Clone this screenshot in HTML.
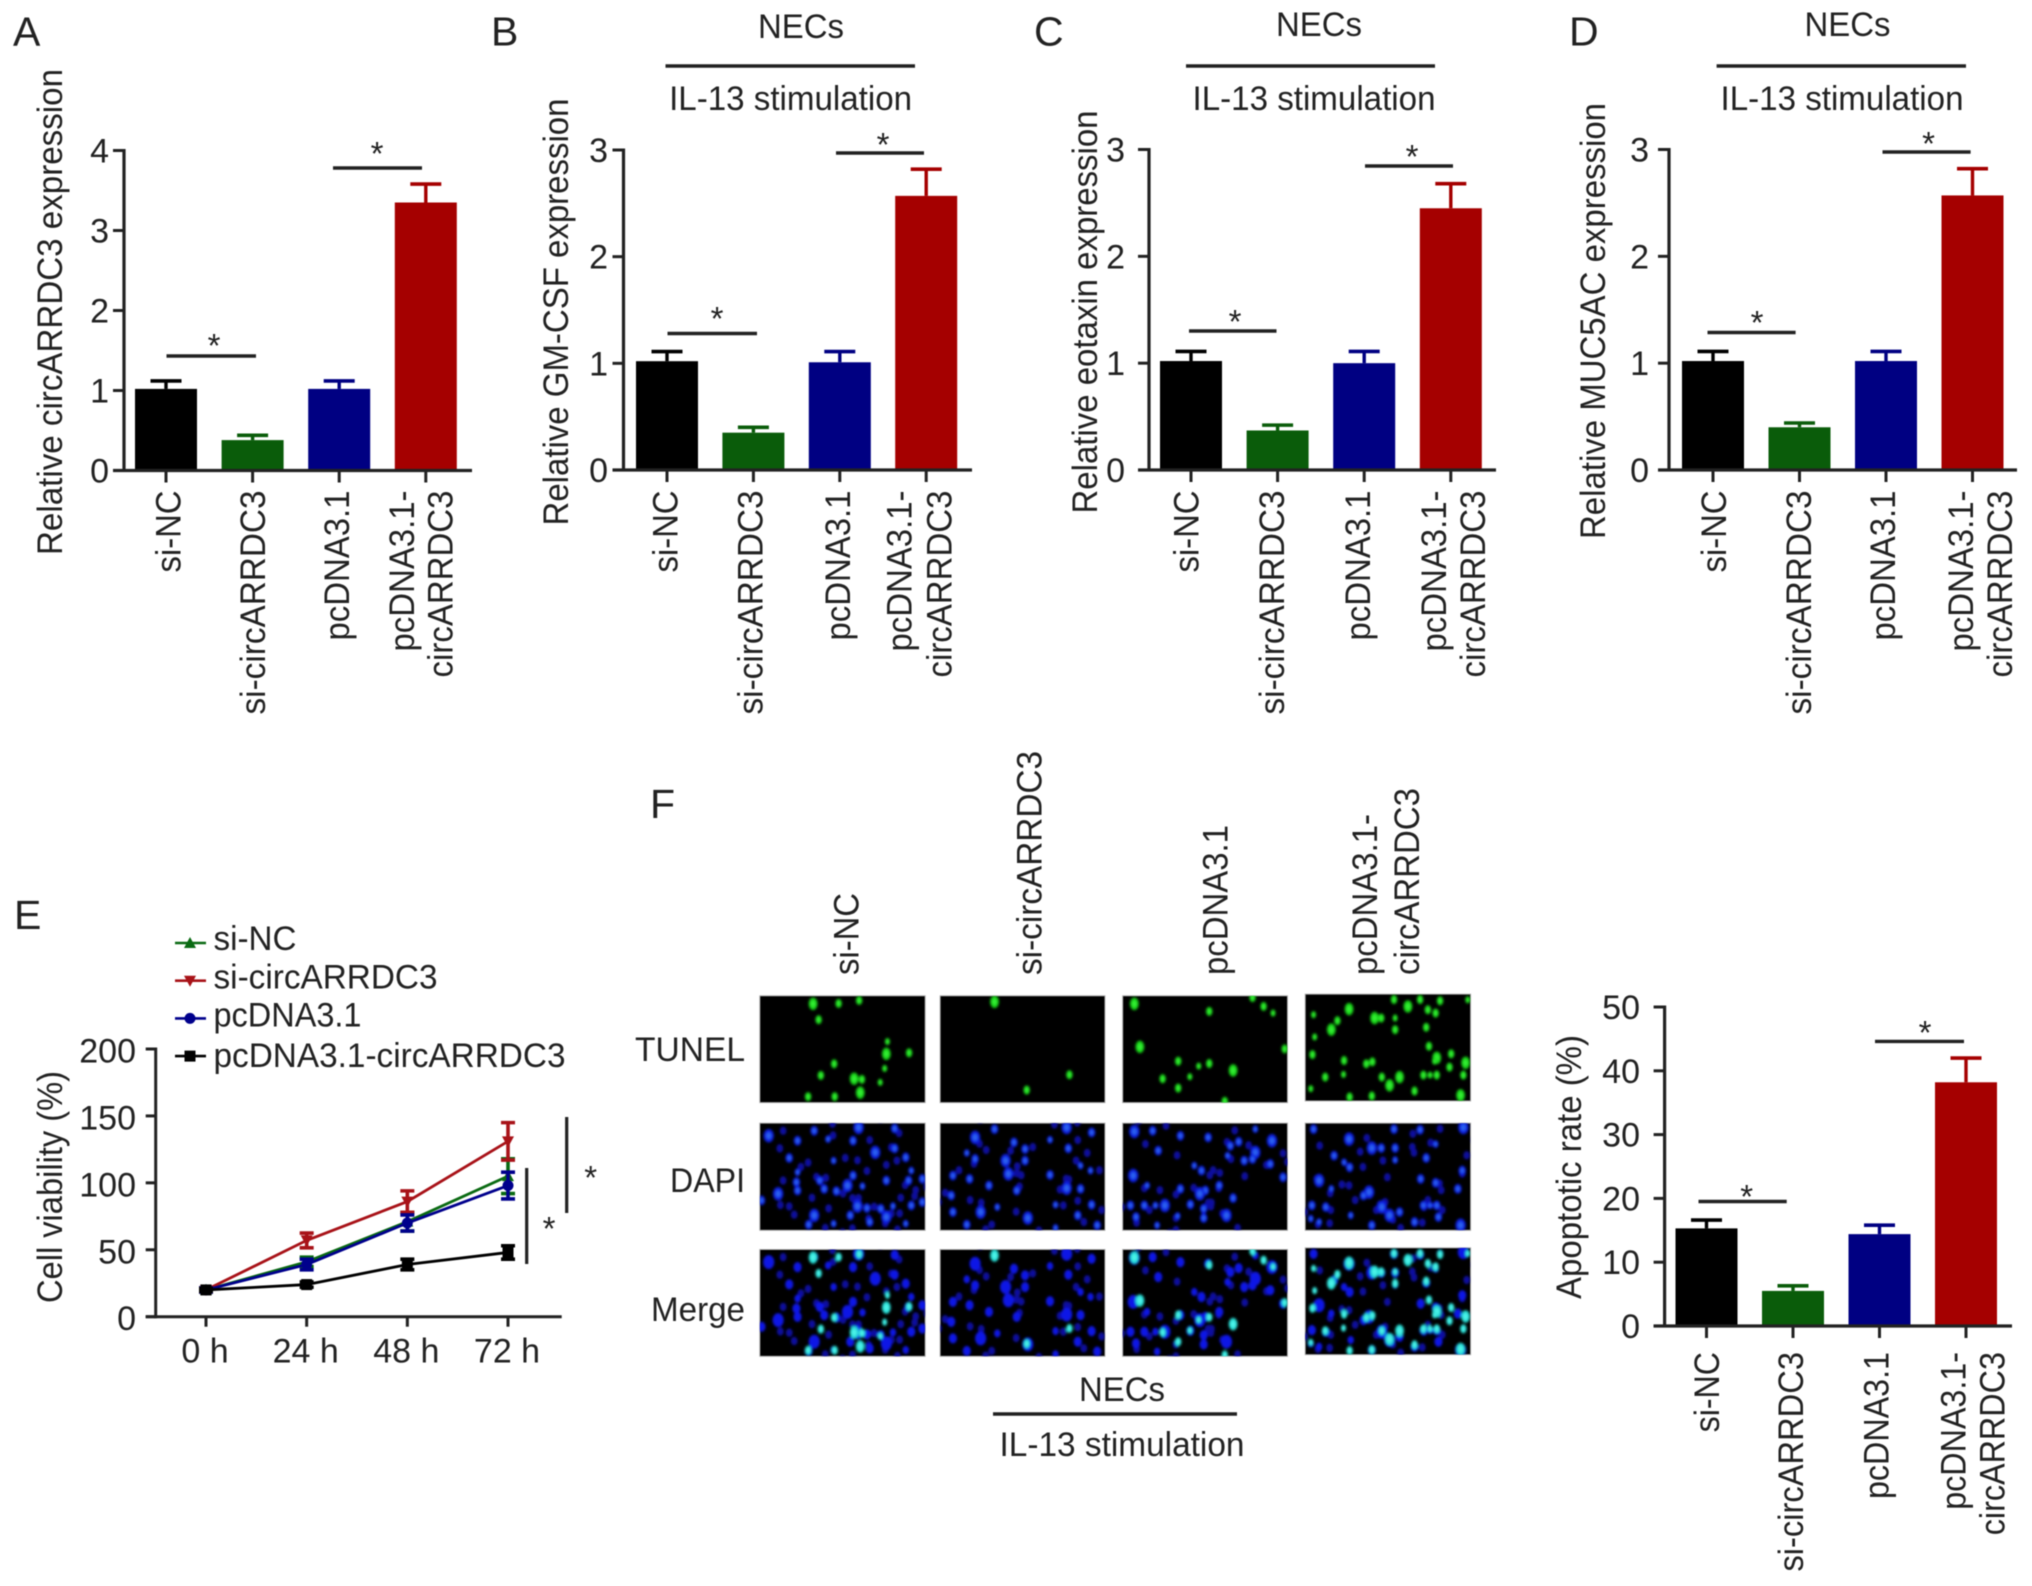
<!DOCTYPE html>
<html lang="en">
<head>
<meta charset="utf-8">
<title>circARRDC3 figure</title>
<style>
html,body{margin:0;padding:0;background:#fff;}
#figure{display:block;width:2032px;height:1586px;filter:blur(0.55px);}
text{font-family:"Liberation Sans",sans-serif;fill:#222;}
</style>
</head>
<body>
<svg id="figure" xmlns="http://www.w3.org/2000/svg" width="2032" height="1586" viewBox="0 0 2032 1586">
<defs>
<filter id="soft" x="-10%" y="-10%" width="120%" height="120%"><feGaussianBlur stdDeviation="1.2"/></filter>
</defs>
<rect x="0" y="0" width="2032" height="1586" fill="#fff"/>
</svg>
<script>
// ---------- chart data ----------
var categories = ['si-NC', 'si-circARRDC3', 'pcDNA3.1', 'pcDNA3.1-circARRDC3'];
var barColors = ['#000000', '#0a5c0a', '#000082', '#a50000'];

var panelAValues = [1.02, 0.38, 1.02, 3.35];
var panelAErrors = [0.10, 0.06, 0.10, 0.23];
var panelATicks = [0, 1, 2, 3, 4];

var panelBValues = [1.02, 0.35, 1.01, 2.57];
var panelBErrors = [0.09, 0.05, 0.10, 0.25];
var panelBTicks = [0, 1, 2, 3];

var panelCValues = [1.02, 0.37, 1.00, 2.45];
var panelCErrors = [0.09, 0.05, 0.11, 0.23];
var panelCTicks = [0, 1, 2, 3];

var panelDValues = [1.02, 0.40, 1.02, 2.57];
var panelDErrors = [0.09, 0.04, 0.09, 0.25];
var panelDTicks = [0, 1, 2, 3];

var panelFValues = [15.3, 5.5, 14.4, 38.2];
var panelFErrors = [1.3, 0.8, 1.4, 3.8];
var panelFTicks = [0, 10, 20, 30, 40, 50];

var timeLabels = ['0 h', '24 h', '48 h', '72 h'];
var viabilityTicks = [0, 50, 100, 150, 200];
var siNcViability = [20, 41, 71, 105];
var siNcErrors = [1.5, 3.5, 7, 13];
var siCircViability = [20, 57, 86, 131];
var siCircErrors = [1.5, 5.5, 8, 14];
var pcDnaViability = [20, 39, 70, 98];
var pcDnaErrors = [1.5, 4, 6, 10];
var pcDnaCircViability = [20, 24, 39, 48];
var pcDnaCircErrors = [1, 2, 4, 5];

// ---------- fluorescence image stand-ins: nuclei ----------
var tunelNuclei = [
 [[348,132],[394,131],[431,122],[358,180],[482,246],[480,283],[521,280],[386,313],[477,327],[362,348],[422,358],[436,360],[469,369],[339,412],[387,412],[433,400]],
 [[675,126],[810,346],[733,392]],
 [[927,132],[1062,155],[1140,113],[1160,140],[1177,160],[937,262],[1198,268],[1006,305],[1043,320],[1062,312],[1105,333],[978,358],[1027,352],[1006,386],[1090,426]],
 [[1314,153],[1395,124],[1442,124],[1478,128],[1528,125],[1420,145],[1456,155],[1470,165],[1250,170],[1293,188],[1360,180],[1372,180],[1397,180],[1397,215],[1453,208],[1282,215],[1252,237],[1458,265],[1248,290],[1498,288],[1472,300],[1305,308],[1345,318],[1356,312],[1468,310],[1524,315],[1495,328],[1271,358],[1304,350],[1373,358],[1405,358],[1448,352],[1460,352],[1472,352],[1520,352],[1387,383],[1245,393],[1432,400],[1315,418],[1355,415],[1515,413]]
];
var dapiNuclei = [
 [[268,530],[320,545],[350,515],[420,545],[375,540],[430,505],[495,508],[305,597],[385,605],[495,568],[460,580],[515,595],[320,640],[360,665],[420,650],[410,680],[525,635],[480,665],[520,665],[318,670],[285,705],[320,695],[368,690],[390,697],[437,682],[428,742],[445,748],[470,750],[492,742],[525,740],[350,770],[340,798],[385,795],[415,770],[450,790],[480,775],[515,795],[255,725],[545,660],[545,730]],
 [[640,535],[675,510],[710,550],[730,570],[775,542],[805,505],[850,520],[808,568],[625,582],[640,600],[695,605],[730,605],[830,620],[600,650],[630,660],[700,645],[848,635],[775,648],[665,680],[715,695],[805,688],[830,690],[597,710],[850,738],[785,738],[735,778],[825,770],[625,798],[785,808],[860,800],[650,760],[600,760],[680,745]],
 [[927,517],[1010,530],[1060,535],[1115,548],[1145,510],[1175,545],[960,515],[970,575],[1095,590],[1125,605],[1145,580],[1172,615],[1035,620],[1048,635],[1195,655],[925,650],[950,680],[1010,690],[1080,680],[1055,695],[1045,705],[1105,718],[920,740],[945,740],[965,740],[982,740],[1028,737],[1052,750],[1005,772],[1052,778],[1093,770],[930,775],[968,800],[1140,600],[1100,560]],
 [[1314,540],[1250,510],[1395,510],[1442,512],[1470,555],[1355,567],[1372,567],[1397,567],[1397,603],[1453,597],[1520,505],[1287,590],[1305,610],[1315,625],[1518,635],[1260,665],[1282,690],[1443,660],[1470,672],[1510,690],[1350,700],[1340,710],[1247,740],[1272,745],[1317,770],[1373,745],[1405,760],[1448,740],[1460,740],[1472,740],[1387,770],[1475,775],[1245,780],[1432,790],[1355,800],[1515,800],[1260,790]]
];

// ---------- drawing ----------
var svg = document.getElementById('figure');
var NS = 'http://www.w3.org/2000/svg';
var INK = '#222222';
var FS = 35;

function make(tag, attrs, parent) {
  var el = document.createElementNS(NS, tag);
  for (var k in attrs) el.setAttribute(k, attrs[k]);
  (parent || svg).appendChild(el);
  return el;
}
function line(x1, y1, x2, y2, color, width, parent) {
  return make('line', {x1: x1, y1: y1, x2: x2, y2: y2, stroke: color || INK, 'stroke-width': width || 3}, parent);
}
function text(str, x, y, opts, parent) {
  opts = opts || {};
  var attrs = {x: x, y: y, 'font-size': opts.size || FS, 'text-anchor': opts.anchor || 'start'};
  if (opts.rot) attrs.transform = 'rotate(' + opts.rot + ' ' + x + ' ' + y + ')';
  if (opts.len) { attrs.textLength = opts.len; attrs.lengthAdjust = 'spacingAndGlyphs'; }
  var el = make('text', attrs, parent);
  el.textContent = str;
  return el;
}
function slug(s) { return String(s).toLowerCase().replace(/[^a-z0-9]+/g, '-'); }

function drawStar(cx, cy, parent) {
  var el = text('*', cx, cy + 18, {anchor: 'middle', size: 33}, parent);
  
  
}
function drawSigLine(x1, x2, y, parent) {
  var el = line(x1, y, x2, y, INK, 3.4, parent);
  
  
}

function drawBarPanel(p) {
  var g = make('g', {});
  
  
  var maxTick = p.ticks[p.ticks.length - 1];
  function yScale(v) { return p.y0 - (v / maxTick) * (p.y0 - p.yTop); }
  function xScale(i) { return p.firstCenter + i * p.step; }

  // bars + error bars
  p.values.forEach(function (v, i) {
    var cx = xScale(i), top = yScale(v), errTop = yScale(v + p.errors[i]);
    var err = line(cx, top, cx, errTop, barColors[i], 3.4, g);
    
    
    var cap = line(cx - 15.5, errTop, cx + 15.5, errTop, barColors[i], 3.6, g);
    
    
    var bar = make('rect', {x: cx - p.barW / 2, y: top, width: p.barW, height: p.y0 - top, fill: barColors[i]}, g);
    
    
  });

  // axes
  var yAxis = line(p.axisX, p.yTop - 1.5, p.axisX, p.y0 + 1.5, INK, 3.2, g);
  
  
  var xAxis = line(p.axisX - 11, p.y0, p.xEnd, p.y0, INK, 3.2, g);
  
  

  p.ticks.forEach(function (t) {
    var y = yScale(t);
    var tick = line(p.axisX - 11, y, p.axisX, y, INK, 3, g);
    
    
    var lab = text(t, p.tickRight, y + 12, {anchor: 'end', size: 34}, g);
    
    
  });

  categories.forEach(function (c, i) {
    var tick = line(xScale(i), p.y0, xScale(i), p.y0 + 12, INK, 3, g);
    
    
  });

  // rotated category labels (4th wraps on two lines)
  var l = p.labelX;
  var s = p.labelScale || 1;
  var parts = [['si-NC', l[0], 82], ['si-circARRDC3', l[1], 224], ['pcDNA3.1', l[2], 150], ['pcDNA3.1-', l[3], 161], ['circARRDC3', l[4], 187]];
  parts.forEach(function (row) {
    var lab = text(row[0], row[1] - 1, p.labelTop, {anchor: 'end', rot: -90, len: row[2] * s}, g);
    
    
  });

  var title = text(p.yTitle, p.yTitleX, p.yTitleY, {anchor: 'middle', rot: -90, len: p.yTitleLen}, g);
  
  

  drawSigLine(p.sigA[0], p.sigA[1], p.sigA[2], g);
  drawStar(p.sigA[3], p.sigA[4], g);
  drawSigLine(p.sigB[0], p.sigB[1], p.sigB[2], g);
  drawStar(p.sigB[3], p.sigB[4], g);

  if (p.header) {
    var nec = text('NECs', p.header.necX, p.header.necY, {anchor: 'middle', size: 34, len: 86}, g);
    
    
    var rule = line(p.header.x1, 66, p.header.x2, 66, INK, 3.6, g);
    
    
    var st = text('IL-13 stimulation', p.header.ilX, 110, {anchor: 'middle', size: 34, len: 243}, g);
    
    
  }
}

drawBarPanel({key: 'a', values: panelAValues, errors: panelAErrors, ticks: panelATicks,
  y0: 470.5, yTop: 150.5, axisX: 124, xEnd: 472, firstCenter: 166, step: 86.6, barW: 62, tickRight: 109,
  labelX: [181.5, 266, 350, 415, 453.5], labelTop: 490.5,
  yTitle: 'Relative circARRDC3 expression', yTitleX: 62, yTitleY: 312, yTitleLen: 486,
  sigA: [166.5, 256, 356, 214, 339], sigB: [333, 422, 168, 377, 147]});

drawBarPanel({key: 'b', values: panelBValues, errors: panelBErrors, ticks: panelBTicks,
  y0: 470, yTop: 150, axisX: 623.5, xEnd: 972, firstCenter: 667, step: 86.4, barW: 62, tickRight: 608,
  labelX: [678.5, 763.5, 851, 912.5, 952.7], labelTop: 490.5,
  yTitle: 'Relative GM-CSF expression', yTitleX: 568, yTitleY: 312, yTitleLen: 427,
  sigA: [667.5, 757, 333.5, 717, 312], sigB: [836, 924, 153, 883, 138],
  header: {necX: 801, necY: 38, x1: 665.5, x2: 915, ilX: 790.6}});

drawBarPanel({key: 'c', values: panelCValues, errors: panelCErrors, ticks: panelCTicks,
  y0: 470, yTop: 149.5, axisX: 1149, xEnd: 1496, firstCenter: 1191, step: 86.6, barW: 62, tickRight: 1125,
  labelX: [1199.4, 1285, 1371, 1447, 1486], labelTop: 490.5,
  yTitle: 'Relative eotaxin expression', yTitleX: 1097, yTitleY: 312, yTitleLen: 403,
  sigA: [1189, 1276.5, 331, 1235, 315], sigB: [1365, 1453, 166, 1412, 150],
  header: {necX: 1319, necY: 36, x1: 1186, x2: 1435, ilX: 1314}});

drawBarPanel({key: 'd', values: panelDValues, errors: panelDErrors, ticks: panelDTicks,
  y0: 470, yTop: 149.5, axisX: 1669, xEnd: 2017, firstCenter: 1713, step: 86.5, barW: 62, tickRight: 1649,
  labelX: [1727, 1812, 1896, 1974, 2013], labelTop: 490.5,
  yTitle: 'Relative MUC5AC expression', yTitleX: 1605, yTitleY: 321, yTitleLen: 436,
  sigA: [1707.5, 1795.6, 332.5, 1757, 316], sigB: [1882.5, 1970.6, 152, 1928.5, 137],
  header: {necX: 1847.5, necY: 36, x1: 1716.6, x2: 1966, ilX: 1842}});

drawBarPanel({key: 'apoptosis', values: panelFValues, errors: panelFErrors, ticks: panelFTicks,
  y0: 1326, yTop: 1007, axisX: 1664.6, xEnd: 2012, firstCenter: 1706.5, step: 86.5, barW: 62, tickRight: 1640,
  labelX: [1720, 1804, 1889.5, 1966.6, 2005.6], labelTop: 1352, labelScale: 0.98,
  yTitle: 'Apoptotic rate (%)', yTitleX: 1581, yTitleY: 1167, yTitleLen: 264,
  sigA: [1698.5, 1786.7, 1201.5, 1746.7, 1190], sigB: [1875, 1964, 1041.4, 1925, 1026]});

// ---------- panel E: line chart ----------
(function () {
  var g = make('g', {});
  
  
  var axisX = 155.7, y0 = 1316.7, yTop = 1049, xEnd = 561.7;
  var maxTick = viabilityTicks[viabilityTicks.length - 1];
  function yScale(v) { return y0 - (v / maxTick) * (y0 - yTop); }
  function xScale(i) { return 206 + i * 100.67; }

  function marker(kind, cx, cy, color, parent) {
    var m;
    if (kind === 'up') m = make('path', {d: 'M' + cx + ' ' + (cy - 6) + 'l6 11h-12z', fill: color}, parent);
    else if (kind === 'down') m = make('path', {d: 'M' + cx + ' ' + (cy + 6) + 'l6 -11h-12z', fill: color}, parent);
    else if (kind === 'circle') m = make('circle', {cx: cx, cy: cy, r: 5.5, fill: color}, parent);
    else m = make('rect', {x: cx - 5.5, y: cy - 5.5, width: 11, height: 11, fill: color}, parent);
    return m;
  }

  var series = [
    {name: 'si-NC', values: siNcViability, errors: siNcErrors, color: '#0a6a12', kind: 'up'},
    {name: 'si-circARRDC3', values: siCircViability, errors: siCircErrors, color: '#a81218', kind: 'down'},
    {name: 'pcDNA3.1', values: pcDnaViability, errors: pcDnaErrors, color: '#00008c', kind: 'circle'},
    {name: 'pcDNA3.1-circARRDC3', values: pcDnaCircViability, errors: pcDnaCircErrors, color: '#000000', kind: 'square'}
  ];
  series.forEach(function (s) {
    var sg = make('g', {}, g);
    
    
    var pts = s.values.map(function (v, i) { return xScale(i) + ',' + yScale(v); }).join(' ');
    var pl = make('polyline', {points: pts, fill: 'none', stroke: s.color, 'stroke-width': 2.8}, sg);
    
    
    s.values.forEach(function (v, i) {
      var cx = xScale(i), up = yScale(v + s.errors[i]), dn = yScale(v - s.errors[i]);
      var e = make('path', {d: 'M' + cx + ' ' + up + 'V' + dn + 'M' + (cx - 7) + ' ' + up + 'h14M' + (cx - 7) + ' ' + dn + 'h14', fill: 'none', stroke: s.color, 'stroke-width': 3.6}, sg);
      
      
      var m = marker(s.kind, cx, yScale(v), s.color, sg);
      
      
    });
  });

  var ya = line(axisX, yTop - 1.5, axisX, y0 + 1.5, INK, 3, g);
  
  
  var xa = line(axisX - 10, y0, xEnd, y0, INK, 3, g);
  
  

  viabilityTicks.forEach(function (t) {
    var tk = line(axisX - 10, yScale(t), axisX, yScale(t), INK, 3, g);
    
    
    var lb = text(t, 136, yScale(t) + 13.5, {anchor: 'end', size: 34}, g);
    
    
  });
  timeLabels.forEach(function (t, i) {
    var tk = line(xScale(i), y0, xScale(i), y0 + 10, INK, 3, g);
    
    
    var lb = text(t, xScale(i) - 1, 1362.7, {anchor: 'middle', size: 34}, g);
    
    
  });

  var yt = text('Cell viability (%)', 62, 1187, {anchor: 'middle', rot: -90, len: 232}, g);
  
  

  // legend
  var lg = make('g', {}, g);
  
  
  var legendLens = [83, 224, 148, 352];
  var legendShift = [-4, -3, -3, 0];
  series.forEach(function (s, i) {
    var ly = 943 + i * 37.7;
    var entry = make('g', {}, lg);
    
    
    line(175, ly, 206, ly, s.color, 2.6, entry);
    marker(s.kind, 190, ly, s.color, entry);
    text(s.name, 213.5, ly + 11 + legendShift[i], {size: 34, len: legendLens[i]}, entry);
  });

  // significance brackets
  var sv1 = line(566.7, 1117, 566.7, 1213, INK, 3.2, g);
  
  
  var sv2 = line(526.7, 1168, 526.7, 1264, INK, 3.2, g);
  
  
  drawStar(590.7, 1171, g);
  drawStar(549, 1222, g);
})();

// ---------- panel F: micrographs ----------
(function () {
  var g = make('g', {});
  
  
  var Z = {sx: 870 / 1568, sy: 520 / 1568, ox: 620, oy: 960};
  function rx(z) { return Z.ox + z * Z.sx; }
  function ry(z) { return Z.oy + z * Z.sy; }
  var cols = [[252, 550], [577, 874], [906, 1203], [1235, 1533]];
  var rows = [[108, 430, 'tunel'], [492, 815, 'dapi'], [873, 1195, 'merge']];
  var colOffsets = [0, 0, 0, -5];
  var faintDx = [20, -26, 34, -14, 8];
  var faintDy = [38, -30, 14, 52, -46];

  function nuclei(list, dy, fill, inner, rw, rh, parent) {
    list.forEach(function (p, i) {
      var big = (i * 7) % 5 === 0 ? 1.3 : ((i * 3) % 4 === 0 ? 0.75 : 0.95);
      var el = make('ellipse', {cx: rx(p[0]), cy: ry(p[1] + dy), rx: rw * big, ry: rh * big, fill: fill}, parent);
      
      
      if (inner) make('ellipse', {cx: rx(p[0]), cy: ry(p[1] + dy), rx: rw * big * 0.5, ry: rh * big * 0.5, fill: inner}, parent);
    });
  }
  // fainter out-of-focus nuclei that fill the gaps between the bright ones
  function faint(list, dy, parent) {
    list.forEach(function (p, i) {
      var el = make('ellipse', {cx: rx(p[0] + faintDx[i % 5]), cy: ry(p[1] + faintDy[i % 5] + dy), rx: 3.4, ry: 4.2, fill: '#0a0ea0'}, parent);
      
      
    });
  }

  cols.forEach(function (c, ci) {
    rows.forEach(function (r) {
      var off = (ci === 3 && r[2] !== 'dapi') ? colOffsets[3] : 0;
      var cell = make('g', {}, g);
      
      
      var id = 'clip-' + ci + '-' + r[2];
      var cp = make('clipPath', {id: id}, cell);
      make('rect', {x: rx(c[0]), y: ry(r[0] + off), width: rx(c[1]) - rx(c[0]), height: ry(r[1] + off) - ry(r[0] + off)}, cp);
      make('rect', {x: rx(c[0]), y: ry(r[0] + off), width: rx(c[1]) - rx(c[0]), height: ry(r[1] + off) - ry(r[0] + off), fill: '#000', stroke: '#aaa', 'stroke-width': 1}, cell);
      var inner = make('g', {'clip-path': 'url(#' + id + ')'}, cell);
      var blurred = make('g', {filter: 'url(#soft)'}, inner);
      if (r[2] === 'tunel') {
        nuclei(tunelNuclei[ci], off, '#18d418', '#35f035', 3.4, 4.8, blurred);
      } else if (r[2] === 'dapi') {
        faint(dapiNuclei[ci], 0, blurred);
        nuclei(dapiNuclei[ci], 0, '#0d1fe0', '#2a62f0', 4, 5.2, blurred);
      } else {
        faint(dapiNuclei[ci], 381 + off, blurred);
        nuclei(dapiNuclei[ci], 381 + off, '#0c12e6', null, 4.3, 5.4, blurred);
        nuclei(tunelNuclei[ci], 765 + off, '#28e0d8', '#50f5ea', 3.4, 4.8, blurred);
      }
    });
  });

  var rowLabels = [['TUNEL', 1061, 110], ['DAPI', 1192, 75], ['Merge', 1321, 94]];
  rowLabels.forEach(function (r) {
    var t = text(r[0], 745, r[1], {anchor: 'end', size: 34, len: r[2]}, g);
    
    
  });

  var colLabels = [['si-NC', 858.5, 82], ['si-circARRDC3', 1041.5, 224], ['pcDNA3.1', 1227.5, 150], ['pcDNA3.1-', 1377, 161], ['circARRDC3', 1419, 187]];
  colLabels.forEach(function (r) {
    var t = text(r[0], r[1], 975, {rot: -90, len: r[2]}, g);
    
    
  });

  var nec = text('NECs', 1122, 1401, {anchor: 'middle', size: 34, len: 86}, g);
  
  
  var rule = line(993, 1414, 1237, 1414, INK, 3.6, g);
  
  
  var st = text('IL-13 stimulation', 1122, 1456, {anchor: 'middle', size: 34, len: 245}, g);
  
  
})();

// ---------- panel letters ----------
var letterA = text('A', 13, 45.5, {size: 41});


var letterB = text('B', 491, 45.5, {size: 41});


var letterC = text('C', 1034, 45.5, {size: 41});


var letterD = text('D', 1569, 45.5, {size: 41});


var letterE = text('E', 14, 929, {size: 41});


var letterF = text('F', 650, 818, {size: 41});


</script>
</body>
</html>
